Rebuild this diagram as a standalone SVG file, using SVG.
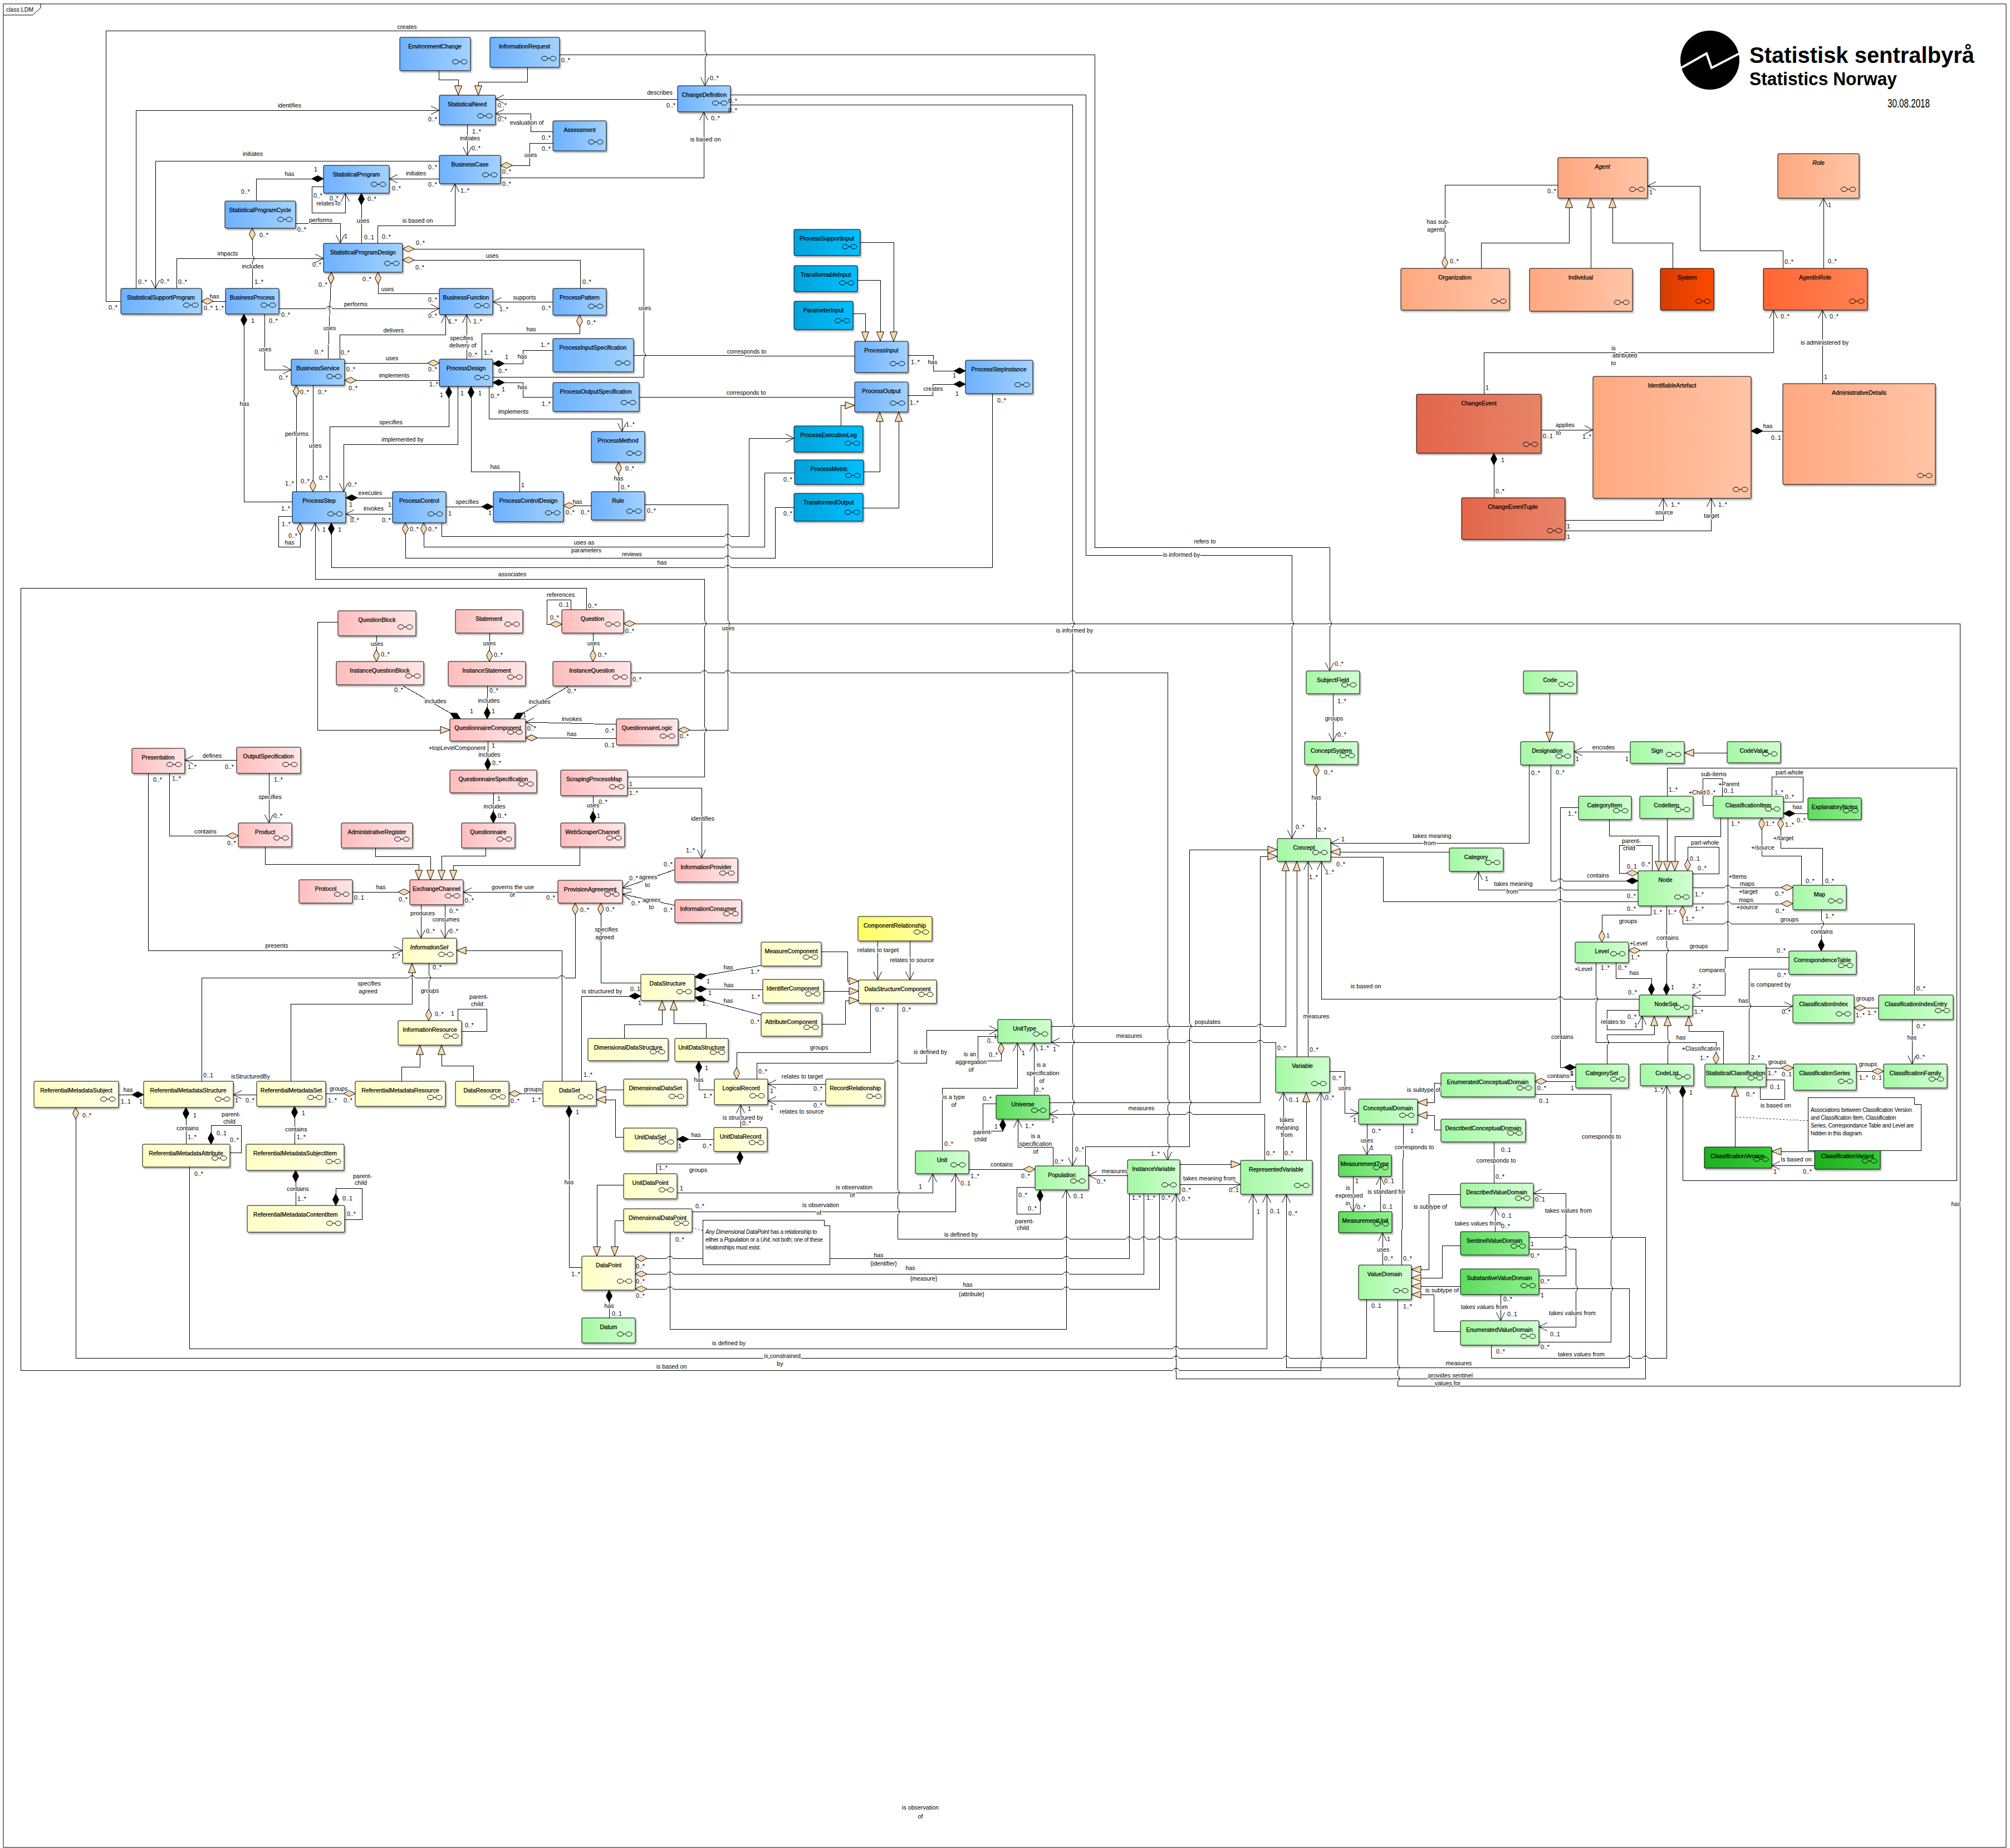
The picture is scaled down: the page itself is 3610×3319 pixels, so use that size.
<svg xmlns="http://www.w3.org/2000/svg" width="3610" height="3319" viewBox="0 0 3610 3319">
<style>
text{font-family:"Liberation Sans",Arial,sans-serif;fill:#000}
.n rect{stroke:#000;stroke-width:1;rx:2px;filter:drop-shadow(2px 3px 1px rgba(0,0,0,.28))}
.n text{font-size:10.5px;text-anchor:middle;stroke:#000;stroke-width:.25px}
.n text.it{font-style:italic}
.b{fill:url(#gb)}.cy{fill:url(#gc)}.pk{fill:url(#gp)}.ye{fill:url(#gy)}.yy{fill:url(#gyy)}.gr{fill:url(#gg)}.dg{fill:url(#gd)}.vg{fill:url(#gv)}.or{fill:url(#go)}.ro{fill:url(#gr)}.sy{fill:url(#gs)}.ce{fill:url(#ge)}
#connectors path{fill:none;stroke:#000;stroke-width:1;shape-rendering:crispEdges}
.a{marker-end:url(#arr)}.g{marker-end:url(#tri)}.d{marker-start:url(#dia)}.c{marker-start:url(#blk)}
#connectors path.da{stroke-dasharray:3 3;stroke:#444}
#labels text{font-size:10.7px;text-anchor:middle;dominant-baseline:central;paint-order:stroke;stroke:#fff;stroke-width:3px;stroke-linejoin:round}
#mult text{font-size:10.7px;text-anchor:middle;dominant-baseline:central}
.note path{fill:#fff;stroke:#000;stroke-width:1;shape-rendering:crispEdges}
.note text{font-size:10px;letter-spacing:-.3px}
</style>
<defs>
<linearGradient id="gb"><stop offset="0" stop-color="#6DB1FF"/><stop offset="1" stop-color="#A2D2FF"/></linearGradient>
<linearGradient id="gc"><stop offset="0" stop-color="#00A3D9"/><stop offset="1" stop-color="#00BFFF"/></linearGradient>
<linearGradient id="gp"><stop offset="0" stop-color="#FFBDBD"/><stop offset="1" stop-color="#FFE6E6"/></linearGradient>
<linearGradient id="gy"><stop offset="0" stop-color="#FFFFC4"/><stop offset="1" stop-color="#FFFFE6"/></linearGradient>
<linearGradient id="gyy"><stop offset="0" stop-color="#FFFF66"/><stop offset="1" stop-color="#FFFFA6"/></linearGradient>
<linearGradient id="gg"><stop offset="0" stop-color="#A4F8A4"/><stop offset="1" stop-color="#D0FFD0"/></linearGradient>
<linearGradient id="gd"><stop offset="0" stop-color="#5EDC5E"/><stop offset="1" stop-color="#90F090"/></linearGradient>
<linearGradient id="gv"><stop offset="0" stop-color="#1FAE1F"/><stop offset="1" stop-color="#36CC36"/></linearGradient>
<linearGradient id="go"><stop offset="0" stop-color="#FFA880"/><stop offset="1" stop-color="#FFC4A6"/></linearGradient>
<linearGradient id="gr"><stop offset="0" stop-color="#FF6633"/><stop offset="1" stop-color="#FF8255"/></linearGradient>
<linearGradient id="gs"><stop offset="0" stop-color="#D63C00"/><stop offset="1" stop-color="#FF4A00"/></linearGradient>
<linearGradient id="ge"><stop offset="0" stop-color="#E2664A"/><stop offset="1" stop-color="#E88468"/></linearGradient>
<marker id="arr" markerUnits="userSpaceOnUse" markerWidth="17" markerHeight="17" refX="15" refY="7.5" orient="auto" overflow="visible"><path d="M0 0L15 7.5L0 15" fill="none" stroke="#000"/></marker>
<marker id="tri" markerUnits="userSpaceOnUse" markerWidth="18" markerHeight="14" refX="17" refY="6.5" orient="auto" overflow="visible"><path d="M0 0L17 6.5L0 13Z" fill="#F9D8AE" stroke="#000"/></marker>
<marker id="dia" markerUnits="userSpaceOnUse" markerWidth="22" markerHeight="12" refX="0" refY="5.5" orient="auto" overflow="visible"><path d="M0 5.5L10.5 0L21 5.5L10.5 11Z" fill="#F9D8AE" stroke="#000"/></marker>
<marker id="blk" markerUnits="userSpaceOnUse" markerWidth="22" markerHeight="12" refX="0" refY="5.5" orient="auto" overflow="visible"><path d="M0 5.5L10.5 0L21 5.5L10.5 11Z" fill="#000" stroke="#000"/></marker>
<g id="i" fill="none" stroke="#000" stroke-width="1"><ellipse cx="-21" cy="0" rx="5.5" ry="4"/><ellipse cx="-5.5" cy="0" rx="5.5" ry="4"/><path d="M-15.5 0H-11"/></g>
<g id="hv"><rect x="-2" y="-6" width="4" height="12" fill="#fff"/><path d="M0 -6Q7 0 0 6M-3 0H3" fill="none" stroke="#000"/></g>
<g id="hh"><rect x="-6" y="-2" width="12" height="4" fill="#fff"/><path d="M-6 0Q0 -8 6 0M0 -3V3" fill="none" stroke="#000"/></g>
</defs>
<rect width="3610" height="3319" fill="#fff"/>
<g id="frame"><path d="M6 3318V7H3603V3318Z" fill="none" stroke="#000"/><path d="M6 27H59L73 14V7" fill="none" stroke="#000"/><text x="11" y="21" font-size="10.5">class LDM</text></g>
<g id="logo"><ellipse cx="3071" cy="108" rx="53" ry="53" fill="#000"/><polyline points="3019,122 3065,96 3074,122 3124,96" fill="none" stroke="#fff" stroke-width="4"/><text x="3142" y="113" font-size="40" font-weight="700" textLength="404" lengthAdjust="spacingAndGlyphs">Statistisk sentralbyrå</text><text x="3142" y="153" font-size="33" font-weight="700" textLength="265" lengthAdjust="spacingAndGlyphs">Statistics Norway</text><text x="3390" y="193" font-size="22" textLength="76" lengthAdjust="spacingAndGlyphs">30.08.2018</text></g>
<g id="connectors">
<path class="a" d="M217 541H190V55H1266V154"/>
<path class="a" d="M1005 98H1966V983H2388V1205"/>
<path class="g" d="M788 127V143H823V171"/>
<path class="g" d="M947 121V147H859V171"/>
<path class="a" d="M1217 178H890"/>
<path class="a" d="M244 518V198H789"/>
<path class="a" d="M993 236H953V204H890"/>
<path class="d" d="M899 297H951V257H993"/>
<path class="a" d="M839 224V279"/>
<path class="a" d="M899 319H1264V201"/>
<path class="a" d="M789 289H279V518"/>
<path class="a" d="M789 321H699"/>
<path class="c" d="M581 321H460V361"/>
<path class="a" d="M581 335H560V382H620V347"/>
<path class="c" d="M649 347V437"/>
<path class="a" d="M531 401H611V437"/>
<path class="a" d="M678 437V405H817V330"/>
<path class="d" d="M453 410V518"/>
<path class="a" d="M317 518V464H581"/>
<path class="d" d="M362 541H405"/>
<path class="a" d="M501 554H789"/>
<path class="d" d="M595 489L589 645"/>
<path class="d" d="M679 489V527H789"/>
<path class="d" d="M723 467H1042V518"/>
<path class="d" d="M723 447H1156V677H885"/>
<path class="a" d="M993 542H885"/>
<path class="d" d="M1041 566V599H865V645"/>
<path class="a" d="M838 645V565"/>
<path class="a" d="M610 645V601H800V565"/>
<path class="c" d="M438 564V901H525"/>
<path class="a" d="M475 564V664H523"/>
<path class="d" d="M789 652H619"/>
<path class="d" d="M619 683H789"/>
<path class="c" d="M885 653H939V629H993"/>
<path class="c" d="M885 687H939V713H993"/>
<path class="a" d="M878 694V752H1117V775"/>
<path d="M1138 638L1535 640"/>
<path d="M1148 713H1535"/>
<path class="d" d="M1111 830V883"/>
<path class="d" d="M532 692L533 883"/>
<path class="d" d="M562 883V692"/>
<path class="c" d="M806 694V766H592V883"/>
<path class="a" d="M822 694V798H617V883"/>
<path class="c" d="M846 694V847H933V883"/>
<path class="c" d="M621 894H705"/>
<path class="a" d="M705 923H621"/>
<path class="c" d="M886 910H801"/>
<path class="d" d="M1012 908H1062"/>
<path class="d" d="M539 939V982H500V927H525"/>
<path class="c" d="M595 939V1019H1782V707"/>
<path class="a" d="M1127 1395H1265V1040H566V939"/>
<path class="a" d="M1053 1095V1056H37V2461H2372V1962"/>
<path class="d" d="M1009 1121H982V1077H1025V1095"/>
<path class="d" d="M1218 1311H1307V906H1158"/>
<path class="d" d="M1120 1120H3520V2489H2510V2334"/>
<path class="a" d="M1133 1209L1300 1208H2097V2084"/>
<path class="a" d="M1312 188H1926V2094"/>
<path class="a" d="M1828 2060V2010"/>
<path d="M1828 2060H1891V2094"/>
<path class="g" d="M1949 2094V2059H2136V1526H2294"/>
<path class="g" d="M1885 1980H2263V1538H2294"/>
<path class="g" d="M1888 1843H2309V1547"/>
<path class="g" d="M2329 1898V1547"/>
<path class="a" d="M2349 1898V1547"/>
<path class="a" d="M2944 1794H2373V1547"/>
<path class="a" d="M2291 1898V1872H1888"/>
<path class="a" d="M2271 2084V2001H1885"/>
<path class="a" d="M1312 170H1950V997H2320V1506"/>
<path class="d" d="M2364 1373V1506"/>
<path class="a" d="M2394 1246V1332"/>
<path class="g" d="M2783 1245V1332"/>
<path class="a" d="M2928 1350H2827"/>
<path class="g" d="M3102 1352H3025"/>
<path class="a" d="M2746 1374V1514H2390"/>
<path class="c" d="M2942 1582H2785V1374"/>
<path class="g" d="M2603 1530H2390"/>
<path class="a" d="M2942 1598H2655V1565"/>
<path d="M2390 1539H2484V1619H2942"/>
<path class="g" d="M2890 1472V1501H2979V1564"/>
<path class="g" d="M2994 1470V1564"/>
<path class="g" d="M3090 1469V1502H3008V1564"/>
<path class="c" d="M2830 1917H2802V1450H2835"/>
<path class="c" d="M3022 1950V2120H3514V1379H2994V1430"/>
<path d="M3093 1430V1398H3058V1446H3077"/>
<path d="M3182 1430V1395H3238V1440H3203"/>
<path class="c" d="M3203 1461H3247"/>
<path class="d" d="M3164 1469V1537H3235V1590"/>
<path class="d" d="M3198 1469V1523H3273V1590"/>
<path class="d" d="M2925 1707H3103V1469"/>
<path class="d" d="M3220 1594H3040"/>
<path class="d" d="M3220 1623H3040"/>
<path class="c" d="M3271 1708V1634"/>
<path class="d" d="M3022 1627V1659H3438V1787"/>
<path class="d" d="M2877 1692V1643H2965V1627"/>
<path class="c" d="M2993 1787V1627"/>
<path class="d" d="M2942 1568H2908V1518H2967V1564"/>
<path class="d" d="M3031 1564V1521H3087V1569H3040"/>
<path class="c" d="M2966 1787V1757H2902V1729"/>
<path class="d" d="M3082 1911V1872H2866V1729"/>
<path class="a" d="M3213 1719H3098V1787H3040"/>
<path d="M3213 1740H3141V1911"/>
<path class="a" d="M3040 1807H3220"/>
<path class="a" d="M2945 1814H2886V1849H2949V1825"/>
<path class="g" d="M2886 1911V1858H2971V1825"/>
<path class="g" d="M2995 1911V1825"/>
<path class="g" d="M3095 1911V1852H3033V1825"/>
<path class="d" d="M3330 1810H3374"/>
<path class="a" d="M3434 1831V1911"/>
<path class="d" d="M3221 1918H3172"/>
<path class="d" d="M3383 1924H3334"/>
<path d="M3172 1939H3205V1974H3161V1952"/>
<path class="g" d="M3116 2060V1952"/>
<path class="da" d="M3118 2006L3247 2013"/>
<path class="g" d="M3259 2068H3182"/>
<path class="a" d="M3259 2093H3182"/>
<path class="d" d="M2757 1942H2830"/>
<path class="g" d="M2588 1945H2576V1980H2546"/>
<path class="g" d="M2588 2029H2576V2003H2546"/>
<path class="a" d="M2388 1924H2415V1999H2440"/>
<path class="a" d="M2455 2019V2074"/>
<path d="M2521 2019L2517 2272"/>
<path d="M2683 2051V2125"/>
<path d="M2757 1965H2893V2410H2764"/>
<path class="a" d="M2430 2113V2176"/>
<path class="a" d="M2479 2176V2113"/>
<path class="a" d="M2483 2272V2214"/>
<path class="g" d="M2623 2145H2566V2280H2535"/>
<path class="g" d="M2623 2237H2590V2295H2535"/>
<path class="g" d="M2623 2310H2535"/>
<path class="g" d="M2623 2391H2575V2325H2535"/>
<path class="a" d="M2695 2325V2372"/>
<path class="a" d="M2685 2212V2168"/>
<path class="a" d="M2764 2291H2812V2143H2754"/>
<path class="a" d="M2746 2243H2830V2383H2764"/>
<path class="a" d="M2746 2222H2955V2476H2112V2144"/>
<path class="a" d="M2764 2314H2926V2456H2310V2145"/>
<path class="a" d="M2678 2416V2439H2993V1950"/>
<path class="d" d="M136 1989V2439H2454V2334"/>
<path class="a" d="M340 2096V2422H2275V2145"/>
<path class="a" d="M1612 1802V2225H2250V2145"/>
<path class="d" d="M1323 1938V1890H1563V1802"/>
<path class="a" d="M1576 1690V1760"/>
<path class="a" d="M1634 1690V1760"/>
<path class="g" d="M1475 1709H1522V1762H1542"/>
<path class="g" d="M1479 1780H1542"/>
<path class="g" d="M1476 1839H1518V1797H1542"/>
<path class="c" d="M1248 1755L1367 1734"/>
<path class="c" d="M1248 1776L1370 1778"/>
<path class="c" d="M1248 1791L1367 1823"/>
<path class="d" d="M1079 1622V1765H1151"/>
<path class="d" d="M1033 1622V1756H362V1942"/>
<path class="c" d="M1151 1789H1044V1942"/>
<path class="g" d="M1121 1865V1840H1189V1797"/>
<path class="g" d="M1268 1865V1838H1210V1797"/>
<path class="g" d="M1120 1957H1071"/>
<path class="g" d="M1121 2042H1105V1975H1071"/>
<path class="c" d="M1255 1906V1957H1283"/>
<path class="c" d="M1216 2046H1282"/>
<path class="a" d="M1330 2025V1984"/>
<path class="c" d="M1329 2068V2090H1179V2108"/>
<path class="a" d="M1483 1947H1379"/>
<path class="a" d="M1483 1977H1379"/>
<path class="a" d="M1359 1938V1909H1664V1850H1792"/>
<path class="d" d="M1798 1873V1905H1756V1861H1792"/>
<path class="a" d="M1857 1967V1873"/>
<path class="a" d="M1692 2067V1954H1827V1873"/>
<path class="c" d="M1801 2010V2031H1765V1982H1789"/>
<path class="d" d="M1859 2100H1740"/>
<path class="a" d="M2025 2111H1955"/>
<path class="c" d="M1868 2137V2180H1826V2132H1859"/>
<path class="g" d="M2119 2091H2228"/>
<path class="a" d="M2119 2127H2228"/>
<path class="g" d="M2346 2084V1962"/>
<path class="a" d="M2305 2084V1962"/>
<path class="g" d="M1120 2128H1072V2256"/>
<path class="g" d="M1120 2192H1104V2256"/>
<path class="c" d="M1022 1986V2276H1045"/>
<path class="c" d="M1094 2317V2367"/>
<path class="d" d="M1141 2260H2028V2144"/>
<path class="d" d="M1141 2288H2054V2144"/>
<path class="d" d="M1141 2315H2082V2144"/>
<path class="a" d="M1216 2142H1675V2108"/>
<path class="a" d="M1243 2176H1716V2108"/>
<path class="a" d="M1203 2213V2387H1915V2137"/>
<path class="da" d="M1242 2205L1262 2210"/>
<path class="d" d="M676 1188V1142"/>
<path class="d" d="M879 1188V1137"/>
<path class="d" d="M1065 1188V1137"/>
<path class="c" d="M827 1291L724 1232"/>
<path class="c" d="M875 1291V1232"/>
<path class="c" d="M922 1291L1022 1232"/>
<path class="g" d="M607 1117H570V1311H808"/>
<path class="a" d="M1107 1301L944 1297"/>
<path class="d" d="M944 1325L1107 1327"/>
<path class="a" d="M1127 1415H1260V1541"/>
<path class="c" d="M876 1383V1331"/>
<path class="c" d="M886 1478V1424"/>
<path class="c" d="M1065 1478V1429"/>
<path class="a" d="M425 1365H332"/>
<path class="a" d="M483 1389V1478"/>
<path class="d" d="M428 1501H304V1389"/>
<path class="a" d="M266 1389V1707H723"/>
<path class="g" d="M476 1521V1552H752V1580"/>
<path class="g" d="M674 1523V1538H773V1580"/>
<path class="g" d="M872 1523V1537H793V1580"/>
<path class="g" d="M1041 1521V1554H814V1580"/>
<path class="d" d="M736 1602H633"/>
<path class="a" d="M1002 1602H832"/>
<path class="a" d="M756 1625V1685"/>
<path class="a" d="M799 1625V1685"/>
<path class="a" d="M1212 1562L1118 1595"/>
<path class="a" d="M1212 1626L1118 1606"/>
<path class="d" d="M770 1833V1730"/>
<path class="g" d="M522 1942V1803H740V1730"/>
<path class="g" d="M1009 1942V1707H820"/>
<path d="M822 1833V1812H874V1852H829"/>
<path class="g" d="M721 1942V1916H754V1877"/>
<path class="g" d="M850 1942V1914H793V1877"/>
<path class="d" d="M914 1964H975"/>
<path class="d" d="M638 1964H585"/>
<path class="a" d="M461 1966H419"/>
<path class="c" d="M258 1966H213"/>
<path class="c" d="M334 1989V2055"/>
<path class="c" d="M379 2055V2021H433V2070H413"/>
<path class="c" d="M529 1987V2055"/>
<path class="c" d="M531 2102V2165"/>
<path class="c" d="M603 2165V2134H650V2190H619"/>
<path class="d" d="M2595 482V332H2798"/>
<path class="g" d="M2660 482V436H2818V356"/>
<path class="g" d="M2857 482V356"/>
<path class="g" d="M3004 482V436H2896V356"/>
<path class="a" d="M3202 482V450H3053V334H2959"/>
<path class="a" d="M3275 482V356"/>
<path class="a" d="M2665 708V633H3185V557"/>
<path class="a" d="M3273 689V557"/>
<path class="a" d="M2768 772H2861"/>
<path class="c" d="M3145 774H3202"/>
<path class="c" d="M2683 814V894"/>
<path class="a" d="M2811 934H2987V895"/>
<path class="a" d="M2811 953H3073V895"/>
<path class="g" d="M1545 435H1605V613"/>
<path class="g" d="M1540 503H1581V613"/>
<path class="g" d="M1532 563H1554V613"/>
<path class="c" d="M1734 666H1676V638H1631"/>
<path class="c" d="M1734 690H1675V710H1631"/>
<path class="g" d="M1510 765V728H1535"/>
<path class="g" d="M1551 847H1580V740"/>
<path class="g" d="M1550 912H1614V740"/>
<path class="a" d="M793 939V963H1345V787H1426"/>
<path class="d" d="M761 939V982H1373V849H1427"/>
<path class="d" d="M728 939V1002H1392V911H1426"/>
<g id="hops">
<use href="#hv" x="1266" y="98"/><use href="#hv" x="453" y="464"/><use href="#hh" x="591" y="554"/><use href="#hv" x="1156" y="638"/>
<use href="#hh" x="1307" y="963"/><use href="#hh" x="1307" y="982"/><use href="#hh" x="1307" y="1002"/><use href="#hh" x="1307" y="1019"/>
<use href="#hv" x="1265" y="1120"/><use href="#hv" x="1307" y="1120"/><use href="#hv" x="1926" y="1120"/><use href="#hv" x="2320" y="1120"/><use href="#hv" x="2388" y="1120"/>
<use href="#hh" x="1265" y="1208"/><use href="#hh" x="1307" y="1208"/><use href="#hh" x="1926" y="1208"/><use href="#hv" x="1265" y="1311"/>
<use href="#hh" x="740" y="1756"/><use href="#hv" x="770" y="1756"/><use href="#hh" x="1009" y="1756"/>
<use href="#hv" x="1926" y="1843"/><use href="#hv" x="1926" y="1872"/><use href="#hv" x="1926" y="1980"/><use href="#hv" x="1926" y="2001"/>
<use href="#hv" x="2097" y="1843"/><use href="#hv" x="2097" y="1872"/><use href="#hv" x="2097" y="1980"/><use href="#hv" x="2097" y="2001"/>
<use href="#hv" x="2136" y="1843"/><use href="#hh" x="2136" y="1872"/><use href="#hv" x="2136" y="1980"/><use href="#hh" x="2136" y="2001"/>
<use href="#hh" x="2263" y="1843"/><use href="#hh" x="2263" y="1872"/><use href="#hv" x="2097" y="2059"/>
<use href="#hh" x="1612" y="1909"/><use href="#hv" x="1612" y="2142"/><use href="#hv" x="1612" y="2176"/>
<use href="#hh" x="2028" y="2225"/><use href="#hh" x="2054" y="2225"/><use href="#hh" x="2082" y="2225"/><use href="#hh" x="2112" y="2225"/>
<use href="#hh" x="1915" y="2225"/><use href="#hh" x="1915" y="2260"/><use href="#hh" x="1915" y="2288"/><use href="#hh" x="1915" y="2315"/>
<use href="#hh" x="1203" y="2260"/><use href="#hh" x="1203" y="2288"/><use href="#hh" x="1203" y="2315"/>
<use href="#hh" x="2112" y="2422"/><use href="#hh" x="2112" y="2439"/><use href="#hh" x="2112" y="2461"/><use href="#hh" x="2310" y="2439"/><use href="#hv" x="2372" y="2439"/>
<use href="#hv" x="2510" y="2456"/><use href="#hv" x="2510" y="2476"/>
<use href="#hv" x="2893" y="2222"/><use href="#hv" x="2893" y="2314"/><use href="#hh" x="2812" y="2222"/><use href="#hh" x="2812" y="2243"/><use href="#hv" x="2830" y="2314"/><use href="#hh" x="2926" y="2439"/><use href="#hh" x="2955" y="2439"/>
<use href="#hh" x="2802" y="1582"/><use href="#hh" x="2802" y="1598"/><use href="#hh" x="2802" y="1619"/><use href="#hh" x="2802" y="1794"/><use href="#hv" x="2866" y="1794"/>
<use href="#hh" x="3103" y="1594"/><use href="#hh" x="3103" y="1623"/><use href="#hh" x="3103" y="1659"/><use href="#hv" x="2993" y="1707"/><use href="#hv" x="3141" y="1807"/><use href="#hv" x="3272" y="1659"/><use href="#hv" x="2886" y="1872"/><use href="#hv" x="2995" y="1872"/>
</g>
</g>
<g id="nodes" class="n">
<g id="EnvironmentChange"><rect class="b" x="718" y="67" width="127" height="60"/><text x="781" y="87">EnvironmentChange</text><use href="#i" x="839" y="111"/></g>
<g id="InformationRequest"><rect class="b" x="880" y="67" width="125" height="54"/><text x="942" y="87">InformationRequest</text><use href="#i" x="999" y="105"/></g>
<g id="StatisticalNeed"><rect class="b" x="789" y="171" width="101" height="53"/><text x="839" y="191">StatisticalNeed</text><use href="#i" x="884" y="208"/></g>
<g id="Assessment"><rect class="b" x="993" y="217" width="96" height="54"/><text x="1041" y="237">Assessment</text><use href="#i" x="1083" y="255"/></g>
<g id="ChangeDefinition"><rect class="b" x="1217" y="154" width="95" height="47"/><text x="1265" y="174">ChangeDefinition</text><use href="#i" x="1306" y="185"/></g>
<g id="BusinessCase"><rect class="b" x="789" y="279" width="110" height="51"/><text x="844" y="299">BusinessCase</text><use href="#i" x="893" y="314"/></g>
<g id="StatisticalProgram"><rect class="b" x="581" y="297" width="118" height="50"/><text x="640" y="317">StatisticalProgram</text><use href="#i" x="693" y="331"/></g>
<g id="StatisticalProgramCycle"><rect class="b" x="404" y="361" width="127" height="49"/><text x="467" y="381">StatisticalProgramCycle</text><use href="#i" x="525" y="394"/></g>
<g id="StatisticalProgramDesign"><rect class="b" x="581" y="437" width="142" height="52"/><text x="652" y="457">StatisticalProgramDesign</text><use href="#i" x="717" y="473"/></g>
<g id="StatisticalSupportProgram"><rect class="b" x="217" y="518" width="145" height="46"/><text x="289" y="538">StatisticalSupportProgram</text><use href="#i" x="356" y="548"/></g>
<g id="BusinessProcess"><rect class="b" x="405" y="518" width="96" height="46"/><text x="453" y="538">BusinessProcess</text><use href="#i" x="495" y="548"/></g>
<g id="BusinessFunction"><rect class="b" x="789" y="518" width="96" height="47"/><text x="837" y="538">BusinessFunction</text><use href="#i" x="879" y="549"/></g>
<g id="ProcessPattern"><rect class="b" x="993" y="518" width="96" height="48"/><text x="1041" y="538">ProcessPattern</text><use href="#i" x="1083" y="550"/></g>
<g id="ProcessInputSpecification"><rect class="b" x="993" y="608" width="145" height="60"/><text x="1065" y="628">ProcessInputSpecification</text><use href="#i" x="1132" y="652"/></g>
<g id="BusinessService"><rect class="b" x="523" y="645" width="96" height="47"/><text x="571" y="665">BusinessService</text><use href="#i" x="613" y="676"/></g>
<g id="ProcessDesign"><rect class="b" x="789" y="645" width="96" height="49"/><text x="837" y="665">ProcessDesign</text><use href="#i" x="879" y="678"/></g>
<g id="ProcessOutputSpecification"><rect class="b" x="993" y="687" width="155" height="52"/><text x="1070" y="707">ProcessOutputSpecification</text><use href="#i" x="1142" y="723"/></g>
<g id="ProcessMethod"><rect class="b" x="1062" y="775" width="96" height="55"/><text x="1110" y="795">ProcessMethod</text><use href="#i" x="1152" y="814"/></g>
<g id="ProcessStep"><rect class="b" x="525" y="883" width="96" height="56"/><text x="573" y="903">ProcessStep</text><use href="#i" x="615" y="923"/></g>
<g id="ProcessControl"><rect class="b" x="705" y="883" width="96" height="56"/><text x="753" y="903">ProcessControl</text><use href="#i" x="795" y="923"/></g>
<g id="ProcessControlDesign"><rect class="b" x="886" y="883" width="126" height="54"/><text x="949" y="903">ProcessControlDesign</text><use href="#i" x="1006" y="921"/></g>
<g id="Rule"><rect class="b" x="1062" y="883" width="96" height="51"/><text x="1110" y="903">Rule</text><use href="#i" x="1152" y="918"/></g>
<g id="ProcessInput"><rect class="b" x="1535" y="613" width="96" height="56"/><text x="1583" y="633">ProcessInput</text><use href="#i" x="1625" y="653"/></g>
<g id="ProcessOutput"><rect class="b" x="1535" y="686" width="96" height="54"/><text x="1583" y="706">ProcessOutput</text><use href="#i" x="1625" y="724"/></g>
<g id="ProcessStepInstance"><rect class="b" x="1734" y="647" width="121" height="60"/><text x="1794" y="667">ProcessStepInstance</text><use href="#i" x="1849" y="691"/></g>
<g id="ProcessSupportInput"><rect class="cy" x="1426" y="412" width="119" height="47"/><text x="1485" y="432">ProcessSupportInput</text><use href="#i" x="1539" y="443"/></g>
<g id="TransformableInput"><rect class="cy" x="1426" y="477" width="114" height="47"/><text x="1483" y="497">TransformableInput</text><use href="#i" x="1534" y="508"/></g>
<g id="ParameterInput"><rect class="cy" x="1426" y="541" width="106" height="51"/><text x="1479" y="561">ParameterInput</text><use href="#i" x="1526" y="576"/></g>
<g id="ProcessExecutionLog"><rect class="cy" x="1426" y="765" width="124" height="47"/><text x="1488" y="785">ProcessExecutionLog</text><use href="#i" x="1544" y="796"/></g>
<g id="ProcessMetric"><rect class="cy" x="1427" y="826" width="124" height="44"/><text x="1489" y="846">ProcessMetric</text><use href="#i" x="1545" y="854"/></g>
<g id="TransformedOutput"><rect class="cy" x="1426" y="886" width="124" height="50"/><text x="1488" y="906">TransformedOutput</text><use href="#i" x="1544" y="920"/></g>
<g id="Agent"><rect class="or" x="2798" y="283" width="161" height="73"/><text class="it" x="2878" y="303">Agent</text><use href="#i" x="2953" y="340"/></g>
<g id="Role"><rect class="or" x="3193" y="276" width="146" height="80"/><text class="it" x="3266" y="296">Role</text><use href="#i" x="3333" y="340"/></g>
<g id="Organization"><rect class="or" x="2516" y="482" width="195" height="75"/><text x="2613" y="502">Organization</text><use href="#i" x="2705" y="541"/></g>
<g id="Individual"><rect class="or" x="2747" y="482" width="185" height="77"/><text x="2839" y="502">Individual</text><use href="#i" x="2926" y="543"/></g>
<g id="System"><rect class="sy" x="2982" y="482" width="96" height="75"/><text x="3030" y="502">System</text><use href="#i" x="3072" y="541"/></g>
<g id="AgentInRole"><rect class="ro" x="3167" y="482" width="187" height="75"/><text x="3260" y="502">AgentInRole</text><use href="#i" x="3348" y="541"/></g>
<g id="ChangeEvent"><rect class="ce" x="2544" y="708" width="224" height="106"/><text x="2656" y="728">ChangeEvent</text><use href="#i" x="2762" y="798"/></g>
<g id="IdentifiableArtefact"><rect class="or" x="2861" y="676" width="284" height="219"/><text x="3003" y="696">IdentifiableArtefact</text><use href="#i" x="3139" y="879"/></g>
<g id="AdministrativeDetails"><rect class="or" x="3202" y="689" width="274" height="181"/><text x="3339" y="709">AdministrativeDetails</text><use href="#i" x="3470" y="854"/></g>
<g id="ChangeEventTuple"><rect class="ce" x="2625" y="894" width="186" height="75"/><text x="2717" y="914">ChangeEventTuple</text><use href="#i" x="2805" y="953"/></g>
<g id="QuestionBlock"><rect class="pk" x="607" y="1097" width="140" height="45"/><text x="677" y="1117">QuestionBlock</text><use href="#i" x="741" y="1126"/></g>
<g id="Statement"><rect class="pk" x="818" y="1095" width="121" height="42"/><text x="878" y="1115">Statement</text><use href="#i" x="933" y="1121"/></g>
<g id="Question"><rect class="pk" x="1009" y="1095" width="111" height="42"/><text x="1064" y="1115">Question</text><use href="#i" x="1114" y="1121"/></g>
<g id="InstanceQuestionBlock"><rect class="pk" x="604" y="1188" width="157" height="42"/><text x="682" y="1208">InstanceQuestionBlock</text><use href="#i" x="755" y="1214"/></g>
<g id="InstanceStatement"><rect class="pk" x="805" y="1188" width="139" height="44"/><text x="874" y="1208">InstanceStatement</text><use href="#i" x="938" y="1216"/></g>
<g id="InstanceQuestion"><rect class="pk" x="993" y="1188" width="140" height="44"/><text x="1063" y="1208">InstanceQuestion</text><use href="#i" x="1127" y="1216"/></g>
<g id="QuestionnaireComponent"><rect class="pk" x="808" y="1291" width="136" height="40"/><text x="876" y="1311">QuestionnaireComponent</text><use href="#i" x="938" y="1315"/></g>
<g id="QuestionnaireLogic"><rect class="pk" x="1107" y="1291" width="111" height="47"/><text x="1162" y="1311">QuestionnaireLogic</text><use href="#i" x="1212" y="1322"/></g>
<g id="Presentation"><rect class="pk" x="237" y="1344" width="95" height="45"/><text x="284" y="1364">Presentation</text><use href="#i" x="326" y="1373"/></g>
<g id="OutputSpecification"><rect class="pk" x="425" y="1342" width="115" height="47"/><text x="482" y="1362">OutputSpecification</text><use href="#i" x="534" y="1373"/></g>
<g id="QuestionnaireSpecification"><rect class="pk" x="808" y="1383" width="156" height="41"/><text x="886" y="1403">QuestionnaireSpecification</text><use href="#i" x="958" y="1408"/></g>
<g id="ScrapingProcessMap"><rect class="pk" x="1007" y="1383" width="120" height="46"/><text x="1067" y="1403">ScrapingProcessMap</text><use href="#i" x="1121" y="1413"/></g>
<g id="Product"><rect class="pk" x="428" y="1478" width="96" height="43"/><text x="476" y="1498">Product</text><use href="#i" x="518" y="1505"/></g>
<g id="AdministrativeRegister"><rect class="pk" x="613" y="1478" width="128" height="45"/><text x="677" y="1498">AdministrativeRegister</text><use href="#i" x="735" y="1507"/></g>
<g id="Questionnaire"><rect class="pk" x="829" y="1478" width="96" height="45"/><text x="877" y="1498">Questionnaire</text><use href="#i" x="919" y="1507"/></g>
<g id="WebScraperChannel"><rect class="pk" x="1007" y="1478" width="115" height="43"/><text x="1064" y="1498">WebScraperChannel</text><use href="#i" x="1116" y="1505"/></g>
<g id="InformationProvider"><rect class="pk" x="1212" y="1541" width="113" height="43"/><text x="1268" y="1561">InformationProvider</text><use href="#i" x="1319" y="1568"/></g>
<g id="InformationConsumer"><rect class="pk" x="1212" y="1616" width="120" height="41"/><text x="1272" y="1636">InformationConsumer</text><use href="#i" x="1326" y="1641"/></g>
<g id="Protocol"><rect class="pk" x="537" y="1580" width="96" height="42"/><text x="585" y="1600">Protocol</text><use href="#i" x="627" y="1606"/></g>
<g id="ExchangeChannel"><rect class="pk" x="736" y="1580" width="96" height="45"/><text x="784" y="1600">ExchangeChannel</text><use href="#i" x="826" y="1609"/></g>
<g id="ProvisionAgreement"><rect class="pk" x="1002" y="1581" width="116" height="41"/><text x="1060" y="1601">ProvisionAgreement</text><use href="#i" x="1112" y="1606"/></g>
<g id="InformationSet"><rect class="ye" x="723" y="1685" width="97" height="45"/><text class="it" x="771" y="1705">InformationSet</text><use href="#i" x="814" y="1714"/></g>
<g id="InformationResource"><rect class="ye" x="715" y="1833" width="114" height="44"/><text x="772" y="1853">InformationResource</text><use href="#i" x="823" y="1861"/></g>
<g id="ReferentialMetadataSubject"><rect class="ye" x="61" y="1942" width="152" height="47"/><text x="137" y="1962">ReferentialMetadataSubject</text><use href="#i" x="207" y="1974"/></g>
<g id="ReferentialMetadataStructure"><rect class="ye" x="258" y="1942" width="161" height="47"/><text x="338" y="1962">ReferentialMetadataStructure</text><use href="#i" x="413" y="1974"/></g>
<g id="ReferentialMetadataSet"><rect class="ye" x="461" y="1942" width="124" height="45"/><text x="523" y="1962">ReferentialMetadataSet</text><use href="#i" x="579" y="1971"/></g>
<g id="ReferentialMetadataResource"><rect class="ye" x="638" y="1942" width="162" height="45"/><text x="719" y="1962">ReferentialMetadataResource</text><use href="#i" x="794" y="1971"/></g>
<g id="DataResource"><rect class="ye" x="818" y="1942" width="96" height="44"/><text x="866" y="1962">DataResource</text><use href="#i" x="908" y="1970"/></g>
<g id="DataSet"><rect class="ye" x="975" y="1942" width="96" height="44"/><text x="1023" y="1962">DataSet</text><use href="#i" x="1065" y="1970"/></g>
<g id="DimensionalDataSet"><rect class="ye" x="1120" y="1938" width="114" height="47"/><text x="1177" y="1958">DimensionalDataSet</text><use href="#i" x="1228" y="1969"/></g>
<g id="DataStructure"><rect class="ye" x="1151" y="1750" width="97" height="47"/><text x="1199" y="1770">DataStructure</text><use href="#i" x="1242" y="1781"/></g>
<g id="DimensionalDataStructure"><rect class="ye" x="1056" y="1865" width="144" height="40"/><text x="1128" y="1885">DimensionalDataStructure</text><use href="#i" x="1194" y="1889"/></g>
<g id="UnitDataStructure"><rect class="ye" x="1212" y="1865" width="96" height="41"/><text x="1260" y="1885">UnitDataStructure</text><use href="#i" x="1302" y="1890"/></g>
<g id="ReferentialMetadataAttribute"><rect class="ye" x="256" y="2055" width="157" height="41"/><text x="334" y="2075">ReferentialMetadataAttribute</text><use href="#i" x="407" y="2080"/></g>
<g id="ReferentialMetadataSubjectItem"><rect class="ye" x="442" y="2055" width="176" height="47"/><text x="530" y="2075">ReferentialMetadataSubjectItem</text><use href="#i" x="612" y="2086"/></g>
<g id="ReferentialMetadataContentItem"><rect class="ye" x="444" y="2165" width="175" height="48"/><text x="531" y="2185">ReferentialMetadataContentItem</text><use href="#i" x="613" y="2197"/></g>
<g id="UnitDataSet"><rect class="ye" x="1120" y="2026" width="96" height="41"/><text x="1168" y="2046">UnitDataSet</text><use href="#i" x="1210" y="2051"/></g>
<g id="UnitDataPoint"><rect class="ye" x="1120" y="2108" width="96" height="45"/><text x="1168" y="2128">UnitDataPoint</text><use href="#i" x="1210" y="2137"/></g>
<g id="DimensionalDataPoint"><rect class="ye" x="1120" y="2171" width="123" height="42"/><text x="1181" y="2191">DimensionalDataPoint</text><use href="#i" x="1237" y="2197"/></g>
<g id="DataPoint"><rect class="ye" x="1045" y="2256" width="96" height="61"/><text x="1093" y="2276">DataPoint</text><use href="#i" x="1135" y="2301"/></g>
<g id="MeasureComponent"><rect class="ye" x="1367" y="1692" width="108" height="43"/><text x="1421" y="1712">MeasureComponent</text><use href="#i" x="1469" y="1719"/></g>
<g id="IdentifierComponent"><rect class="ye" x="1370" y="1759" width="109" height="42"/><text x="1424" y="1779">IdentifierComponent</text><use href="#i" x="1473" y="1785"/></g>
<g id="AttributeComponent"><rect class="ye" x="1367" y="1819" width="109" height="42"/><text x="1421" y="1839">AttributeComponent</text><use href="#i" x="1470" y="1845"/></g>
<g id="ComponentRelationship"><rect class="yy" x="1541" y="1646" width="133" height="44"/><text x="1607" y="1666">ComponentRelationship</text><use href="#i" x="1668" y="1674"/></g>
<g id="DataStructureComponent"><rect class="ye" x="1542" y="1760" width="140" height="42"/><text x="1612" y="1780">DataStructureComponent</text><use href="#i" x="1676" y="1786"/></g>
<g id="LogicalRecord"><rect class="ye" x="1283" y="1938" width="96" height="46"/><text x="1331" y="1958">LogicalRecord</text><use href="#i" x="1373" y="1968"/></g>
<g id="RecordRelationship"><rect class="ye" x="1483" y="1938" width="106" height="47"/><text x="1536" y="1958">RecordRelationship</text><use href="#i" x="1583" y="1969"/></g>
<g id="UnitDataRecord"><rect class="ye" x="1282" y="2025" width="96" height="43"/><text x="1330" y="2045">UnitDataRecord</text><use href="#i" x="1372" y="2052"/></g>
<g id="Datum"><rect class="gr" x="1045" y="2367" width="96" height="45"/><text x="1093" y="2387">Datum</text><use href="#i" x="1135" y="2396"/></g>
<g id="UnitType"><rect class="gr" x="1792" y="1831" width="96" height="42"/><text x="1840" y="1851">UnitType</text><use href="#i" x="1882" y="1857"/></g>
<g id="Universe"><rect class="dg" x="1789" y="1967" width="96" height="43"/><text x="1837" y="1987">Universe</text><use href="#i" x="1879" y="1994"/></g>
<g id="Unit"><rect class="gr" x="1644" y="2067" width="96" height="41"/><text x="1692" y="2087">Unit</text><use href="#i" x="1734" y="2092"/></g>
<g id="Population"><rect class="gr" x="1859" y="2094" width="96" height="43"/><text x="1907" y="2114">Population</text><use href="#i" x="1949" y="2121"/></g>
<g id="InstanceVariable"><rect class="gr" x="2025" y="2083" width="94" height="61"/><text x="2072" y="2103">InstanceVariable</text><use href="#i" x="2113" y="2128"/></g>
<g id="RepresentedVariable"><rect class="gr" x="2228" y="2084" width="129" height="61"/><text x="2292" y="2104">RepresentedVariable</text><use href="#i" x="2351" y="2129"/></g>
<g id="Variable"><rect class="gr" x="2291" y="1898" width="97" height="64"/><text x="2339" y="1918">Variable</text><use href="#i" x="2382" y="1946"/></g>
<g id="ConceptualDomain"><rect class="gr" x="2440" y="1974" width="106" height="45"/><text x="2493" y="1994">ConceptualDomain</text><use href="#i" x="2540" y="2003"/></g>
<g id="MeasurementType"><rect class="dg" x="2404" y="2074" width="95" height="39"/><text x="2451" y="2094">MeasurementType</text><use href="#i" x="2493" y="2097"/></g>
<g id="MeasurementUnit"><rect class="dg" x="2404" y="2176" width="96" height="38"/><text x="2452" y="2196">MeasurementUnit</text><use href="#i" x="2494" y="2198"/></g>
<g id="ValueDomain"><rect class="gr" x="2440" y="2272" width="95" height="62"/><text x="2487" y="2292">ValueDomain</text><use href="#i" x="2529" y="2318"/></g>
<g id="EnumeratedConceptualDomain"><rect class="gr" x="2588" y="1927" width="169" height="43"/><text x="2672" y="1947">EnumeratedConceptualDomain</text><use href="#i" x="2751" y="1954"/></g>
<g id="DescribedConceptualDomain"><rect class="gr" x="2588" y="2010" width="152" height="41"/><text x="2664" y="2030">DescribedConceptualDomain</text><use href="#i" x="2734" y="2035"/></g>
<g id="DescribedValueDomain"><rect class="gr" x="2623" y="2125" width="131" height="43"/><text x="2688" y="2145">DescribedValueDomain</text><use href="#i" x="2748" y="2152"/></g>
<g id="SentinelValueDomain"><rect class="dg" x="2623" y="2212" width="123" height="42"/><text x="2684" y="2232">SentinelValueDomain</text><use href="#i" x="2740" y="2238"/></g>
<g id="SubstantiveValueDomain"><rect class="dg" x="2623" y="2279" width="141" height="46"/><text x="2693" y="2299">SubstantiveValueDomain</text><use href="#i" x="2758" y="2309"/></g>
<g id="EnumeratedValueDomain"><rect class="gr" x="2623" y="2372" width="141" height="44"/><text x="2693" y="2392">EnumeratedValueDomain</text><use href="#i" x="2758" y="2400"/></g>
<g id="CategorySet"><rect class="gr" x="2830" y="1911" width="95" height="43"/><text x="2877" y="1931">CategorySet</text><use href="#i" x="2919" y="1938"/></g>
<g id="CodeList"><rect class="gr" x="2946" y="1911" width="96" height="39"/><text x="2994" y="1931">CodeList</text><use href="#i" x="3036" y="1934"/></g>
<g id="StatisticalClassification"><rect class="gr" x="3062" y="1911" width="110" height="41"/><text x="3117" y="1931">StatisticalClassification</text><use href="#i" x="3166" y="1936"/></g>
<g id="ClassificationSeries"><rect class="gr" x="3221" y="1911" width="113" height="47"/><text x="3277" y="1931">ClassificationSeries</text><use href="#i" x="3328" y="1942"/></g>
<g id="ClassificationFamily"><rect class="gr" x="3383" y="1911" width="114" height="43"/><text x="3440" y="1931">ClassificationFamily</text><use href="#i" x="3491" y="1938"/></g>
<g id="ClassificationVersion"><rect class="vg" x="3061" y="2060" width="121" height="38"/><text x="3121" y="2080">ClassificationVersion</text><use href="#i" x="3176" y="2082"/></g>
<g id="ClassificationVariant"><rect class="vg" x="3259" y="2060" width="118" height="40"/><text x="3318" y="2080">ClassificationVariant</text><use href="#i" x="3371" y="2085"/></g>
<g id="SubjectField"><rect class="gr" x="2346" y="1205" width="96" height="41"/><text x="2394" y="1225">SubjectField</text><use href="#i" x="2436" y="1230"/></g>
<g id="ConceptSystem"><rect class="gr" x="2343" y="1332" width="96" height="41"/><text x="2391" y="1352">ConceptSystem</text><use href="#i" x="2433" y="1357"/></g>
<g id="Code"><rect class="gr" x="2736" y="1205" width="96" height="40"/><text x="2784" y="1225">Code</text><use href="#i" x="2826" y="1229"/></g>
<g id="Designation"><rect class="gr" x="2731" y="1332" width="96" height="42"/><text x="2779" y="1352">Designation</text><use href="#i" x="2821" y="1358"/></g>
<g id="Sign"><rect class="gr" x="2928" y="1332" width="97" height="39"/><text x="2976" y="1352">Sign</text><use href="#i" x="3019" y="1355"/></g>
<g id="CodeValue"><rect class="gr" x="3102" y="1332" width="96" height="38"/><text x="3150" y="1352">CodeValue</text><use href="#i" x="3192" y="1354"/></g>
<g id="CategoryItem"><rect class="gr" x="2835" y="1430" width="95" height="42"/><text x="2882" y="1450">CategoryItem</text><use href="#i" x="2924" y="1456"/></g>
<g id="CodeItem"><rect class="gr" x="2945" y="1430" width="96" height="40"/><text x="2993" y="1450">CodeItem</text><use href="#i" x="3035" y="1454"/></g>
<g id="ClassificationItem"><rect class="gr" x="3077" y="1430" width="126" height="39"/><text x="3140" y="1450">ClassificationItem</text><use href="#i" x="3197" y="1453"/></g>
<g id="ExplanatoryNotes"><rect class="dg" x="3247" y="1433" width="96" height="39"/><text x="3295" y="1453">ExplanatoryNotes</text><use href="#i" x="3337" y="1456"/></g>
<g id="Concept"><rect class="gr" x="2294" y="1506" width="96" height="41"/><text x="2342" y="1526">Concept</text><use href="#i" x="2384" y="1531"/></g>
<g id="Category"><rect class="gr" x="2603" y="1523" width="97" height="42"/><text x="2651" y="1543">Category</text><use href="#i" x="2694" y="1549"/></g>
<g id="Node"><rect class="gr" x="2942" y="1564" width="98" height="63"/><text x="2991" y="1584">Node</text><use href="#i" x="3034" y="1611"/></g>
<g id="Map"><rect class="gr" x="3220" y="1590" width="96" height="44"/><text x="3268" y="1610">Map</text><use href="#i" x="3310" y="1618"/></g>
<g id="Level"><rect class="gr" x="2829" y="1692" width="96" height="37"/><text x="2877" y="1712">Level</text><use href="#i" x="2919" y="1713"/></g>
<g id="CorrespondenceTable"><rect class="gr" x="3213" y="1708" width="121" height="42"/><text x="3273" y="1728">CorrespondenceTable</text><use href="#i" x="3328" y="1734"/></g>
<g id="NodeSet"><rect class="gr" x="2944" y="1787" width="96" height="38"/><text x="2992" y="1807">NodeSet</text><use href="#i" x="3034" y="1809"/></g>
<g id="ClassificationIndex"><rect class="gr" x="3220" y="1787" width="110" height="50"/><text x="3275" y="1807">ClassificationIndex</text><use href="#i" x="3324" y="1821"/></g>
<g id="ClassificationIndexEntry"><rect class="gr" x="3374" y="1787" width="134" height="44"/><text x="3441" y="1807">ClassificationIndexEntry</text><use href="#i" x="3502" y="1815"/></g>
</g>
<g id="notes" class="note">
<g id="note1"><path d="M1262 2191H1480L1490 2201V2271H1262Z"/><path d="M1480 2191V2201H1490"/><text x="1267" y="2216"><tspan font-style="italic">Any Dimensional DataPoint</tspan> has a relationship to</text><text x="1267" y="2230">either a <tspan font-style="italic">Population</tspan> or a <tspan font-style="italic">Unit</tspan>, not both; one of these</text><text x="1267" y="2244">relationships must exist.</text></g>
<g id="note2"><path d="M3247 1971H3438L3450 1983V2066H3247Z"/><path d="M3438 1971V1983H3450"/><text x="3252" y="1997">Associations between Classification Version</text><text x="3252" y="2011">and  Classification Item,   Classification</text><text x="3252" y="2025">Series, Correspondance Table and Level are</text><text x="3252" y="2039">hidden in this diagram.</text></g>
</g>
<g id="labels">
<text x="731" y="48">creates</text><text x="1185" y="166">describes</text><text x="520" y="189">identifies</text><text x="946" y="220">evaluation of</text><text x="953" y="278">uses</text><text x="844" y="248">initiates</text><text x="1267" y="250">is based on</text><text x="454" y="276">initiates</text><text x="747" y="311">initiates</text><text x="520" y="312">has</text><text x="590" y="365">relatesTo</text><text x="652" y="396">uses</text><text x="576" y="395">performs</text><text x="750" y="396">is based on</text><text x="454" y="478">includes</text><text x="409" y="455">impacts</text><text x="385" y="532">has</text><text x="639" y="546">performs</text><text x="592" y="589">uses</text><text x="696" y="519">uses</text><text x="884" y="459">uses</text><text x="1158" y="553">uses</text><text x="942" y="534">supports</text><text x="954" y="591">has</text><text x="829" y="607">specifies</text><text x="831" y="620">delivery of</text><text x="707" y="593">delivers</text><text x="439" y="725">has</text><text x="476" y="627">uses</text><text x="704" y="643">uses</text><text x="708" y="674">implements</text><text x="938" y="640">has</text><text x="938" y="695">has</text><text x="922" y="739">implements</text><text x="1341" y="631">corresponds to</text><text x="1340" y="705">corresponds to</text><text x="1111" y="859">has</text><text x="533" y="779">performs</text><text x="566" y="800">uses</text><text x="702" y="758">specifies</text><text x="723" y="789">implemented by</text><text x="889" y="838">has</text><text x="665" y="885">executes</text><text x="671" y="913">invokes</text><text x="839" y="901">specifies</text><text x="1037" y="901">has</text><text x="520" y="974">has</text><text x="1189" y="1010">has</text><text x="920" y="1031">associates</text><text x="1206" y="2454">is based on</text><text x="1007" y="1068">references</text><text x="1308" y="1128">uses</text><text x="1930" y="1132">is informed by</text><text x="2164" y="972">refers to</text><text x="2122" y="996">is informed by</text>
<text x="1049" y="974">uses as</text><text x="1053" y="988">parameters</text><text x="1135" y="995">reviews</text>
<text x="1675" y="650">has</text><text x="1676" y="698">creates</text>
<text x="2583" y="398">has sub-</text><text x="2579" y="412">agents</text><text x="2898" y="625">is</text><text x="2918" y="638">attributed</text><text x="2898" y="652">to</text><text x="3277" y="615">is administered by</text><text x="2811" y="763">applies</text><text x="2799" y="777">to</text><text x="3175" y="765">has</text><text x="2989" y="920">source</text><text x="3074" y="926">target</text>
<text x="677" y="1156">uses</text><text x="879" y="1155">uses</text><text x="1066" y="1155">uses</text><text x="782" y="1259">includes</text><text x="878" y="1258">includes</text><text x="969" y="1260">includes</text><text x="1027" y="1291">invokes</text><text x="1027" y="1318">has</text><text x="1262" y="1470">identifies</text><text x="821" y="1343">+topLevelComponent</text><text x="879" y="1355">includes</text><text x="888" y="1448">includes</text><text x="1065" y="1446">uses</text><text x="381" y="1357">defines</text><text x="485" y="1431">specifies</text><text x="369" y="1493">contains</text><text x="497" y="1698">presents</text><text x="684" y="1593">has</text><text x="921" y="1593">governs the use</text><text x="920" y="1607">of</text><text x="759" y="1640">produces</text><text x="801" y="1651">consumes</text><text x="1164" y="1575">agrees</text><text x="1163" y="1589">to</text><text x="1170" y="1616">agrees</text><text x="1170" y="1629">to</text>
<text x="772" y="1779">groups</text><text x="663" y="1766">specifies</text><text x="661" y="1780">agreed</text><text x="860" y="1790">parent-</text><text x="857" y="1803">child</text><text x="957" y="1956">groups</text><text x="608" y="1955">groups</text><text x="450" y="1933">isStructuredBy</text><text x="230" y="1957">has</text><text x="337" y="2026">contains</text><text x="415" y="2001">parent-</text><text x="412" y="2014">child</text><text x="532" y="2028">contains</text><text x="535" y="2135">contains</text><text x="651" y="2112">parent-</text><text x="648" y="2124">child</text>
<text x="1089" y="1669">specifies</text><text x="1086" y="1683">agreed</text><text x="1081" y="1780">is structured by</text><text x="1308" y="1737">has</text><text x="1309" y="1769">has</text><text x="1308" y="1797">has</text><text x="1577" y="1706">relates to target</text><text x="1638" y="1724">relates to source</text><text x="1471" y="1881">groups</text><text x="1255" y="1939">has</text><text x="1250" y="2038">has</text><text x="1334" y="2007">is structured by</text><text x="1254" y="2101">groups</text><text x="1441" y="1933">relates to target</text><text x="1440" y="1996">relates to source</text><text x="1671" y="1889">is defined by</text>
<text x="1742" y="1893">is an</text><text x="1744" y="1907">aggregation</text><text x="1744" y="1921">of</text><text x="1870" y="1912">is a</text><text x="1873" y="1927">specification</text><text x="1871" y="1941">of</text><text x="1713" y="1970">is a type</text><text x="1713" y="1984">of</text><text x="1765" y="2033">parent-</text><text x="1761" y="2046">child</text><text x="1860" y="2040">is a</text><text x="1860" y="2054">specification</text><text x="1860" y="2068">of</text><text x="1799" y="2091">contains</text><text x="2002" y="2103">measures</text><text x="1840" y="2193">parent-</text><text x="1837" y="2205">child</text><text x="2172" y="2116">takes meaning from</text>
<text x="2169" y="1835">populates</text><text x="2028" y="1860">measures</text><text x="2050" y="1990">measures</text><text x="2364" y="1825">measures</text><text x="2453" y="1771">is based on</text><text x="2311" y="2011">takes</text><text x="2312" y="2025">meaning</text><text x="2311" y="2038">from</text>
<text x="1022" y="2123">has</text><text x="1094" y="2345">has</text><text x="1578" y="2254">has</text><text x="1587" y="2269">{identifier}</text><text x="1635" y="2277">has</text><text x="1659" y="2296">{measure}</text><text x="1738" y="2307">has</text><text x="1745" y="2324">{attribute}</text><text x="1534" y="2132">is observation</text><text x="1531" y="2146">of</text><text x="1474" y="2164">is observation</text><text x="1471" y="2178">of</text><text x="1726" y="2217">is defined by</text><text x="1309" y="2412">is defined by</text><text x="1405" y="2435">is constrained</text><text x="1401" y="2449">by</text><text x="1653" y="3246">is observation</text><text x="1653" y="3262">of</text>
<text x="2364" y="1432">has</text><text x="2396" y="1290">groups</text><text x="2880" y="1342">encodes</text><text x="2572" y="1501">takes meaning</text><text x="2568" y="1514">from</text><text x="2870" y="1572">contains</text><text x="2718" y="1587">takes meaning</text><text x="2716" y="1601">from</text><text x="2806" y="1862">contains</text><text x="3078" y="1390">sub-items</text><text x="3105" y="1408">+Parent</text><text x="3048" y="1423">+Child</text><text x="3214" y="1387">part-whole</text><text x="3228" y="1449">has</text><text x="3166" y="1522">+/source</text><text x="3203" y="1505">+/target</text><text x="3051" y="1699">groups</text><text x="3121" y="1574">+Items</text><text x="2943" y="1694">+Level</text><text x="3138" y="1587">maps</text><text x="3140" y="1601">+target</text><text x="3136" y="1616">maps</text><text x="3138" y="1629">+source</text><text x="3272" y="1673">contains</text><text x="3214" y="1651">groups</text><text x="2924" y="1654">groups</text><text x="2995" y="1684">contains</text><text x="2930" y="1510">parent-</text><text x="2926" y="1523">child</text><text x="3062" y="1513">part-whole</text><text x="2935" y="1747">has</text><text x="2844" y="1740">+Level</text><text x="3055" y="1883">+Classification</text><text x="3075" y="1742">compares</text><text x="3180" y="1768">is compared by</text><text x="3131" y="1797">has</text><text x="2897" y="1835">relates to</text><text x="3019" y="1863">has</text><text x="3350" y="1793">groups</text><text x="3434" y="1863">has</text><text x="3192" y="1907">groups</text><text x="3355" y="1911">groups</text><text x="3189" y="1985">is based on</text><text x="3226" y="2082">Is based on</text>
<text x="2799" y="1932">contains</text><text x="2557" y="1957">is subtype of</text><text x="2415" y="1954">uses</text><text x="2455" y="2048">uses</text><text x="2540" y="2060">corresponds to</text><text x="2687" y="2084">corresponds to</text><text x="2876" y="2041">corresponds to</text><text x="2421" y="2133">is</text><text x="2423" y="2147">expressed</text><text x="2421" y="2161">in</text><text x="2490" y="2140">is standard for</text><text x="2484" y="2244">uses</text><text x="2569" y="2167">is subtype of</text><text x="2590" y="2317">is subtype of</text><text x="2666" y="2347">takes values from</text><text x="2655" y="2197">takes values from</text><text x="2817" y="2174">takes values from</text><text x="2824" y="2358">takes values from</text><text x="2605" y="2470">provides sentinel</text><text x="2600" y="2484">values for</text><text x="2620" y="2448">measures</text><text x="2840" y="2432">takes values from</text><text x="3513" y="2162">has</text>
</g>
<g id="mult">
<text x="203" y="552">0..*</text><text x="1283" y="140">0..*</text><text x="1016" y="108">0..*</text><text x="2405" y="1192">0..*</text><text x="1205" y="189">0..*</text><text x="902" y="189">0..*</text><text x="256" y="506">0..*</text><text x="777" y="214">0..*</text><text x="981" y="247">0..*</text><text x="902" y="214">0..*</text><text x="981" y="267">0..*</text><text x="910" y="308">0..*</text><text x="856" y="236">1..*</text><text x="855" y="266">0..*</text><text x="910" y="330">0..*</text><text x="1285" y="212">0..*</text><text x="777" y="300">0..*</text><text x="296" y="505">0..*</text><text x="777" y="331">0..*</text><text x="712" y="338">0..*</text><text x="567" y="304">1</text><text x="441" y="344">0..*</text><text x="571" y="351">0..*</text><text x="600" y="356">0..*</text><text x="668" y="357">0..*</text><text x="663" y="426">0..1</text><text x="542" y="412">0..*</text><text x="621" y="424">1</text><text x="694" y="425">0..*</text><text x="835" y="342">1..*</text><text x="474" y="422">0..*</text><text x="465" y="506">1..*</text><text x="328" y="506">0..*</text><text x="569" y="475">0..*</text><text x="374" y="553">0..*</text><text x="394" y="553">1..*</text><text x="513" y="565">0..*</text><text x="777" y="567">0..*</text><text x="580" y="511">0..*</text><text x="573" y="632">0..*</text><text x="659" y="501">0..*</text><text x="777" y="538">0..*</text><text x="754" y="480">0..*</text><text x="1054" y="506">0..*</text><text x="755" y="436">0..*</text><text x="903" y="666">0..*</text><text x="981" y="553">0..*</text><text x="905" y="555">1..*</text><text x="1062" y="579">0..*</text><text x="877" y="633">1..*</text><text x="849" y="637">0..*</text><text x="858" y="577">1..*</text><text x="620" y="633">0..*</text><text x="813" y="577">1..*</text><text x="454" y="576">1</text><text x="520" y="868">1..*</text><text x="513" y="913">1..*</text><text x="491" y="576">0..*</text><text x="509" y="678">0..*</text><text x="630" y="663">0..*</text><text x="777" y="663">0..*</text><text x="634" y="697">0..*</text><text x="779" y="690">1..*</text><text x="910" y="641">1</text><text x="979" y="619">1..*</text><text x="904" y="699">1</text><text x="981" y="725">1..*</text><text x="889" y="711">0..*</text><text x="1132" y="762">1..*</text><text x="1131" y="841">0..*</text><text x="1123" y="875">0..*</text><text x="547" y="704">0..*</text><text x="579" y="704">0..*</text><text x="548" y="864">0..*</text><text x="793" y="709">1</text><text x="581" y="858">0..*</text><text x="830" y="706">1</text><text x="633" y="870">0..*</text><text x="862" y="706">1</text><text x="939" y="871">1</text><text x="630" y="906">1</text><text x="700" y="906">1</text><text x="637" y="934">0..*</text><text x="694" y="934">0..*</text><text x="808" y="922">1</text><text x="880" y="921">1</text><text x="1024" y="920">0..*</text><text x="1051" y="920">0..*</text><text x="514" y="941">1..*</text><text x="526" y="962">0..*</text><text x="582" y="951">1</text><text x="610" y="951">1</text><text x="1799" y="719">0..*</text><text x="1133" y="1408">1</text><text x="2388" y="1971">0..*</text><text x="1064" y="1088">0..*</text><text x="1013" y="1086">0..1</text><text x="996" y="1109">0..*</text><text x="1229" y="1322">0..*</text><text x="1170" y="917">0..*</text><text x="1131" y="1133">0..*</text><text x="2528" y="2346">1..*</text><text x="1144" y="1220">0..*</text><text x="2075" y="2072">1..*</text><text x="1316" y="198">0..*</text><text x="1316" y="181">0..*</text><text x="1902" y="2086">0..*</text><text x="1939" y="2064">0..*</text><text x="1849" y="2022">1..*</text><text x="2335" y="1485">0..*</text><text x="2359" y="1575">1..*</text><text x="2360" y="1885">0..*</text><text x="2388" y="1566">1..*</text><text x="2932" y="1782">0..*</text><text x="2302" y="1882">0..*</text><text x="1894" y="1884">1</text><text x="2282" y="2071">0..*</text><text x="1891" y="2012">1</text><text x="2386" y="1387">0..*</text><text x="2374" y="1490">0..*</text><text x="2410" y="1259">1..*</text><text x="2410" y="1319">0..*</text><text x="2833" y="1363">1</text><text x="2922" y="1363">1</text><text x="2758" y="1388">0..*</text><text x="2412" y="1507">1</text><text x="2802" y="1387">0..*</text><text x="2670" y="1578">1</text><text x="2930" y="1609">0..*</text><text x="2408" y="1552">0..*</text><text x="2930" y="1632">0..*</text><text x="2824" y="1461">1..*</text><text x="2822" y="1928">1</text><text x="3037" y="1962">1</text><text x="3005" y="1418">1..*</text><text x="3073" y="1423">0..*</text><text x="3105" y="1420">0..1</text><text x="3195" y="1423">1..*</text><text x="3214" y="1431">0..*</text><text x="3214" y="1481">1..*</text><text x="3235" y="1473">0..*</text><text x="3179" y="1479">1..*</text><text x="3251" y="1582">0..*</text><text x="3286" y="1582">0..*</text><text x="3117" y="1479">1..*</text><text x="2937" y="1719">1..*</text><text x="3052" y="1606">1..*</text><text x="3196" y="1605">0..*</text><text x="3052" y="1632">1..*</text><text x="3197" y="1636">0..*</text><text x="3286" y="1645">1..*</text><text x="3199" y="1707">0..*</text><text x="3035" y="1650">1..*</text><text x="3450" y="1775">0..*</text><text x="2888" y="1680">1</text><text x="2977" y="1638">1..*</text><text x="3004" y="1773">1</text><text x="3003" y="1638">1..*</text><text x="2931" y="1556">0..1</text><text x="2956" y="1552">0..*</text><text x="3044" y="1542">0..1</text><text x="3057" y="1559">0..*</text><text x="2914" y="1738">0..*</text><text x="2883" y="1738">1..*</text><text x="3061" y="1900">1..*</text><text x="3047" y="1771">2..*</text><text x="3200" y="1751">0..*</text><text x="3153" y="1899">2..*</text><text x="3051" y="1817">1..*</text><text x="3208" y="1817">0..*</text><text x="2931" y="1826">0..*</text><text x="2938" y="1841">1</text><text x="3341" y="1823">1..*</text><text x="3362" y="1819">1..*</text><text x="3450" y="1843">0..*</text><text x="3449" y="1898">0..*</text><text x="3183" y="1927">1..*</text><text x="3209" y="1929">0..1</text><text x="3347" y="1935">1..*</text><text x="3371" y="1935">0..1</text><text x="3188" y="1952">0..1</text><text x="3144" y="1965">0..*</text><text x="3188" y="2104">1</text><text x="3246" y="2104">0..*</text><text x="2769" y="1954">0..*</text><text x="2824" y="1927">1</text><text x="2824" y="1954">1</text><text x="2401" y="1936">0..*</text><text x="2433" y="2011">1</text><text x="2472" y="2031">0..*</text><text x="2464" y="2061">1</text><text x="2536" y="2031">1</text><text x="2528" y="2260">0..*</text><text x="2705" y="2065">0..1</text><text x="2694" y="2113">0..*</text><text x="2773" y="1977">0..1</text><text x="2775" y="2419">0..*</text><text x="2437" y="2121">1</text><text x="2445" y="2168">0..*</text><text x="2495" y="2121">0..1</text><text x="2492" y="2167">0..1</text><text x="2494" y="2225">1</text><text x="2494" y="2260">0..*</text><text x="2708" y="2333">0..*</text><text x="2716" y="2360">0..1</text><text x="2706" y="2183">0..1</text><text x="2704" y="2202">0..*</text><text x="2775" y="2301">0..*</text><text x="2766" y="2154">0..1</text><text x="2757" y="2255">0..*</text><text x="2793" y="2396">0..1</text><text x="2752" y="2234">1</text><text x="2130" y="2153">0..*</text><text x="2770" y="2326">1</text><text x="2322" y="2179">0..*</text><text x="2695" y="2427">0..*</text><text x="2979" y="1957">1..*</text><text x="156" y="2003">0..*</text><text x="2472" y="2345">0..1</text><text x="357" y="2108">0..*</text><text x="2290" y="2175">0..1</text><text x="1628" y="1813">0..*</text><text x="2260" y="2176">1</text><text x="1580" y="1813">0..*</text><text x="1272" y="1762">1</text><text x="1356" y="1745">1..*</text><text x="1275" y="1783">1</text><text x="1357" y="1790">1..*</text><text x="1267" y="1802">1..</text><text x="1356" y="1835">0..*</text><text x="1096" y="1633">0..*</text><text x="1050" y="1634">0..*</text><text x="374" y="1931">0..1</text><text x="1141" y="1776">0..1</text><text x="1149" y="1801">1</text><text x="1056" y="1930">1..*</text><text x="1269" y="1918">1</text><text x="1271" y="1968">1..*</text><text x="1221" y="2058">1</text><text x="1270" y="2058">0..*</text><text x="1346" y="1991">1</text><text x="1341" y="2017">0..*</text><text x="1191" y="2097">1..*</text><text x="1386" y="1959">1</text><text x="1469" y="1955">0..*</text><text x="1386" y="1989">1</text><text x="1469" y="1985">0..*</text><text x="1370" y="1924">0..*</text><text x="1788" y="1861">1</text><text x="1779" y="1869">0..</text><text x="1784" y="1894">0..*</text><text x="1876" y="1882">1..*</text><text x="1867" y="1957">0..*</text><text x="1838" y="1891">1</text><text x="1704" y="2054">0..*</text><text x="1773" y="1973">0..*</text><text x="1789" y="2023">1</text><text x="1751" y="2112">1..*</text><text x="1842" y="2112">0..*</text><text x="1978" y="2122">0..*</text><text x="1837" y="2146">0..*</text><text x="1854" y="2170">0..*</text><text x="2131" y="2137">0..*</text><text x="2216" y="2137">0..1</text><text x="2324" y="1975">0..1</text><text x="2315" y="2071">0..*</text><text x="1037" y="1997">1</text><text x="1034" y="2288">1..*</text><text x="1108" y="2359">0..1</text><text x="1150" y="2274">0..*</text><text x="2041" y="2151">1..*</text><text x="1150" y="2301">0..*</text><text x="2067" y="2151">1..*</text><text x="1150" y="2327">0..*</text><text x="2094" y="2151">0..*</text><text x="1224" y="2134">1</text><text x="1653" y="2131">1</text><text x="1257" y="2166">0..*</text><text x="1734" y="2125">0..1</text><text x="1221" y="2226">0..*</text><text x="1937" y="2148">0..1</text><text x="692" y="1175">0..*</text><text x="895" y="1176">0..*</text><text x="1082" y="1176">0..*</text><text x="716" y="1239">0..*</text><text x="847" y="1277">1</text><text x="887" y="1240">0..*</text><text x="886" y="1277">1</text><text x="1027" y="1241">0..*</text><text x="942" y="1284">1</text><text x="955" y="1308">0..*</text><text x="1095" y="1312">0..*</text><text x="1095" y="1338">0..1</text><text x="1138" y="1424">1..*</text><text x="1240" y="1527">1..*</text><text x="886" y="1339">1</text><text x="892" y="1370">0..*</text><text x="896" y="1434">1</text><text x="902" y="1465">0..*</text><text x="1075" y="1465">1</text><text x="1083" y="1440">0..*</text><text x="412" y="1377">0..*</text><text x="345" y="1377">1..*</text><text x="500" y="1400">1..*</text><text x="499" y="1465">0..*</text><text x="317" y="1398">1..*</text><text x="416" y="1514">0..*</text><text x="283" y="1400">0..*</text><text x="711" y="1717">1..*</text><text x="645" y="1612">0..1</text><text x="724" y="1615">0..*</text><text x="843" y="1617">0..*</text><text x="989" y="1612">0..*</text><text x="773" y="1672">0..*</text><text x="815" y="1636">0..*</text><text x="815" y="1672">0..*</text><text x="1138" y="1577">0..*</text><text x="1200" y="1552">0..*</text><text x="1142" y="1622">0..*</text><text x="1200" y="1634">0..*</text><text x="785" y="1737">0..*</text><text x="789" y="1821">0..*</text><text x="813" y="1820">1</text><text x="843" y="1841">0..*</text><text x="925" y="1977">0..*</text><text x="963" y="1975">1..*</text><text x="597" y="1976">1..*</text><text x="625" y="1976">0..*</text><text x="425" y="1976">1</text><text x="449" y="1976">0..*</text><text x="226" y="1978">1..1</text><text x="253" y="1978">1</text><text x="350" y="2003">1</text><text x="345" y="2042">1..*</text><text x="398" y="2035">0..1</text><text x="421" y="2047">0..*</text><text x="545" y="1999">1</text><text x="541" y="2042">1..*</text><text x="542" y="2153">1..*</text><text x="624" y="2152">0..1</text><text x="631" y="2180">0..*</text>
<text x="2612" y="469">0..*</text><text x="2787" y="343">0..*</text><text x="2965" y="345">1</text><text x="3213" y="470">0..*</text><text x="3286" y="368">1</text><text x="3291" y="469">0..*</text><text x="2671" y="696">1</text><text x="3206" y="568">0..*</text><text x="3279" y="677">1</text><text x="3294" y="568">0..*</text><text x="2780" y="783">0..1</text><text x="2850" y="784">1..*</text><text x="3190" y="786">0..1</text><text x="2699" y="826">1</text><text x="2694" y="882">0..*</text><text x="2817" y="945">1</text><text x="3009" y="906">1..*</text><text x="2817" y="964">1</text><text x="3094" y="906">1..*</text><text x="1644" y="650">1..*</text><text x="1714" y="674">1</text><text x="1642" y="723">1..*</text><text x="1719" y="707">1</text><text x="777" y="950">0..*</text><text x="1415" y="861">0..*</text><text x="744" y="950">0..*</text><text x="1415" y="922">0..*</text>
</g>
</svg>
